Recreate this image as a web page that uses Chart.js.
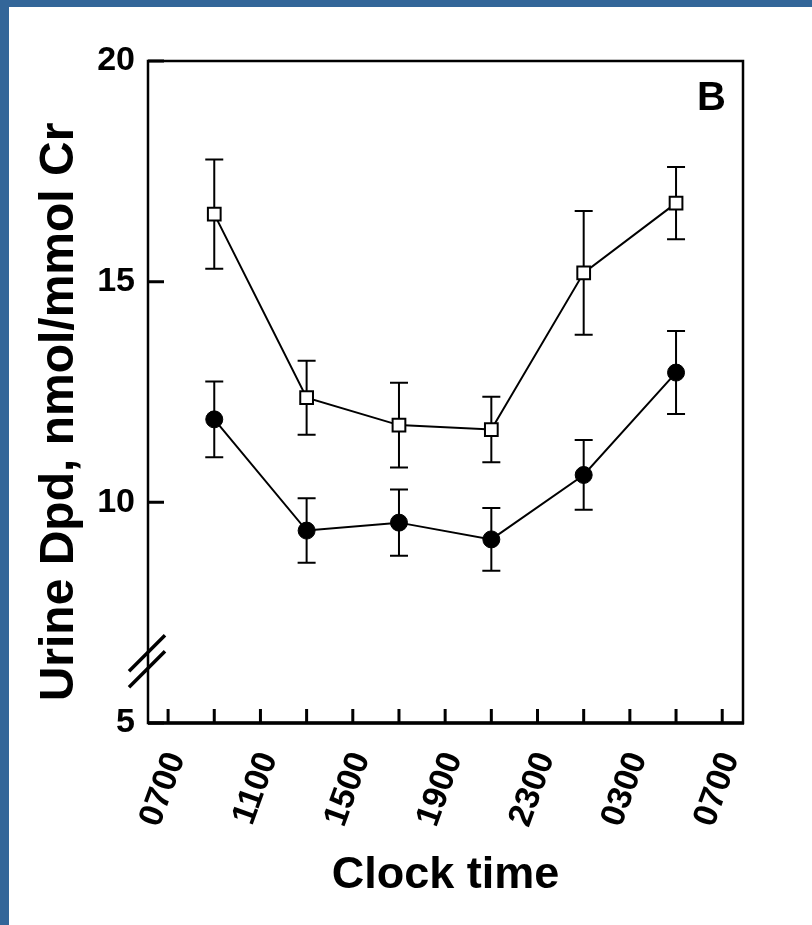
<!DOCTYPE html>
<html><head><meta charset="utf-8">
<script src="https://cdn.jsdelivr.net/npm/chart.js@4.4.1/dist/chart.umd.min.js"></script>
<style>
html,body{margin:0;padding:0;background:#fff;}
#wrap{position:relative;width:812px;height:925px;overflow:hidden;background:#fff;}
#c{position:absolute;left:0;top:0;}
.bl{position:absolute;left:0;top:0;width:9px;height:925px;background:#336699;}
.bt{position:absolute;left:0;top:0;width:812px;height:7px;background:#336699;}
</style></head><body>
<div id="wrap"><canvas id="c" width="812" height="925"></canvas><div class="bl"></div><div class="bt"></div></div>
<script>
// Hours after 0700 at which each 4-h collection is plotted
const timePoints = [2, 6, 10, 14, 18, 22];
const tickHours = [0, 2, 4, 6, 8, 10, 12, 14, 16, 18, 20, 22, 24];
const tickLabels = ['0700', '1100', '1500', '1900', '2300', '0300', '0700'];
const yTickValues = [5, 10, 15, 20];
const openMean = [16.53, 12.37, 11.75, 11.65, 15.20, 16.78];
const openSem = [1.24, 0.84, 0.96, 0.74, 1.40, 0.82];
const filledMean = [11.88, 9.36, 9.54, 9.16, 10.62, 12.94];
const filledSem = [0.86, 0.73, 0.75, 0.71, 0.79, 0.94];
const yTitle = 'Urine Dpd, nmol/mmol Cr';
const xTitle = 'Clock time';
const panelLabel = 'B';

const FAM = "'Liberation Sans',Arial,Helvetica,sans-serif";

const decor = {
  id: 'decor',
  beforeDatasetsDraw(chart) {
    const {ctx, scales: {x, y}} = chart;
    const sets = [[openMean, openSem], [filledMean, filledSem]];
    ctx.save();
    ctx.strokeStyle = '#000';
    ctx.lineWidth = 2;
    sets.forEach(([m, s]) => {
      m.forEach((v, i) => {
        const px = x.getPixelForValue(timePoints[i]);
        const top = y.getPixelForValue(v + s[i]);
        const bot = y.getPixelForValue(v - s[i]);
        ctx.beginPath();
        ctx.moveTo(px, top); ctx.lineTo(px, bot);
        ctx.moveTo(px - 9, top); ctx.lineTo(px + 9, top);
        ctx.moveTo(px - 9, bot); ctx.lineTo(px + 9, bot);
        ctx.stroke();
      });
    });
    ctx.restore();
  },
  afterDraw(chart) {
    const {ctx, chartArea: a, scales: {x, y}} = chart;
    ctx.save();
    ctx.strokeStyle = '#000';
    ctx.lineWidth = 2.5;
    ctx.strokeRect(a.left, a.top, a.right - a.left, a.bottom - a.top);
    ctx.lineWidth = 3.5;
    ctx.beginPath();
    ctx.moveTo(a.left, a.bottom); ctx.lineTo(a.right + 1, a.bottom);
    ctx.stroke();
    ctx.lineWidth = 3;
    ctx.beginPath();
    x.ticks.forEach(t => {
      const px = x.getPixelForValue(t.value);
      ctx.moveTo(px, a.bottom); ctx.lineTo(px, a.bottom - 14);
    });
    y.ticks.forEach(t => {
      const py = y.getPixelForValue(t.value);
      ctx.moveTo(a.left, py); ctx.lineTo(a.left + 16, py);
    });
    ctx.stroke();
    // axis break marks
    const yb = y.getPixelForValue(6.4);
    ctx.lineWidth = 3.5;
    ctx.beginPath();
    ctx.moveTo(a.left - 19, yb - 8 + 18); ctx.lineTo(a.left + 17, yb - 8 - 18);
    ctx.moveTo(a.left - 19, yb + 8 + 18); ctx.lineTo(a.left + 17, yb + 8 - 18);
    ctx.stroke();
    // panel label
    ctx.fillStyle = '#000';
    ctx.font = "bold 40px " + FAM;
    ctx.textAlign = 'right';
    ctx.textBaseline = 'middle';
    ctx.fillText(panelLabel, a.right - 17, a.top + 38);
    // y-axis title
    ctx.translate(60, 412);
    ctx.rotate(-Math.PI / 2);
    ctx.font = "bold 48px " + FAM;
    ctx.textAlign = 'center';
    ctx.fillText(yTitle, 0, 0);
    ctx.restore();
  }
};

new Chart(document.getElementById('c'), {
  type: 'line',
  data: {
    datasets: [
      {
        data: timePoints.map((t, i) => ({x: t, y: openMean[i]})),
        borderColor: '#000', borderWidth: 2, tension: 0,
        pointStyle: 'rect', pointRadius: 9, pointBackgroundColor: '#fff',
        pointBorderColor: '#000', pointBorderWidth: 2
      },
      {
        data: timePoints.map((t, i) => ({x: t, y: filledMean[i]})),
        borderColor: '#000', borderWidth: 2, tension: 0,
        pointStyle: 'circle', pointRadius: 8.5, pointBackgroundColor: '#000',
        pointBorderColor: '#000', pointBorderWidth: 1
      }
    ]
  },
  options: {
    responsive: false,
    animation: false,
    devicePixelRatio: 1,
    layout: {padding: {top: 61, right: 69, left: 0, bottom: 0}},
    plugins: {legend: {display: false}, tooltip: {enabled: false}},
    scales: {
      x: {
        type: 'linear', min: -0.87, max: 24.9,
        afterBuildTicks: s => { s.ticks = tickHours.map(v => ({value: v})); },
        afterFit: s => { s.height = 202; },
        grid: {display: false, drawTicks: false},
        border: {display: false},
        ticks: {
          autoSkip: false, minRotation: 70, maxRotation: 70, includeBounds: false,
          padding: 24, labelOffset: 8, color: '#000',
          font: {family: FAM, size: 34, weight: 'bold'},
          callback: v => (v % 4 === 0 ? tickLabels[v / 4] : '')
        },
        title: {
          display: true, text: xTitle, color: '#000',
          font: {family: FAM, size: 45, weight: 'bold', lineHeight: 1},
          padding: {top: 0, bottom: 27}
        }
      },
      y: {
        type: 'linear', min: 5, max: 20,
        afterBuildTicks: s => { s.ticks = yTickValues.map(v => ({value: v})); },
        afterFit: s => { s.width = 148; },
        grid: {display: false, drawTicks: false},
        border: {display: false},
        ticks: {
          padding: 13, color: '#000',
          font: {family: FAM, size: 34, weight: 'bold'}
        },
        title: {display: false}
      }
    }
  },
  plugins: [decor]
});
</script>
</body></html>
